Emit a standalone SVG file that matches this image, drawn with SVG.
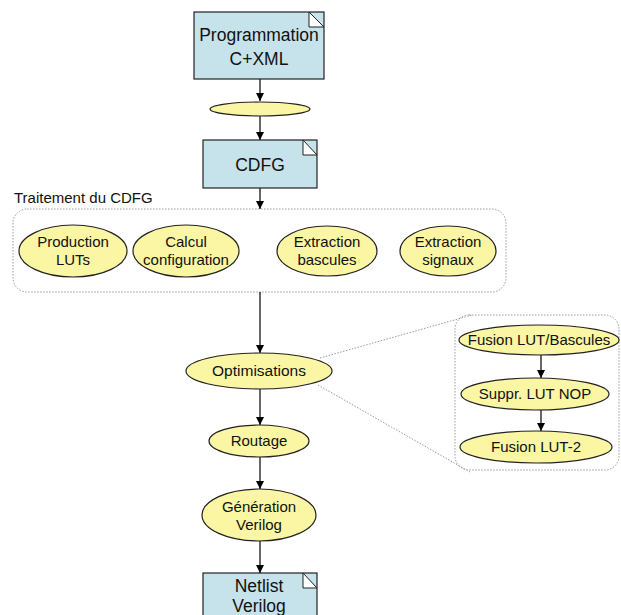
<svg xmlns="http://www.w3.org/2000/svg" width="621" height="615" viewBox="0 0 621 615">
<style>
text{font-family:"Liberation Sans",Arial,sans-serif;fill:#111;text-anchor:middle}
.box{fill:#c6e2ea;stroke:#222;stroke-width:1.2}
.fold{fill:#ffffff;stroke:#222;stroke-width:1}
.ell{fill:#faf6a4;stroke:#222;stroke-width:1.2}
.bt{font-size:17.5px}
.et{font-size:15px}
.grp{fill:none;stroke:#999;stroke-width:1;stroke-dasharray:1.5 1.5}
.conn line{stroke:#000;stroke-width:1.2}
.zoom{stroke:#999;stroke-width:1;stroke-dasharray:1.5 1.5;fill:none}
</style>
<defs>
<marker id="ah" viewBox="0 0 10 10" refX="10" refY="5" markerWidth="8" markerHeight="8" markerUnits="userSpaceOnUse" orient="auto">
<path d="M0,0 L10,5 L0,10 z" fill="#000"/>
</marker>
</defs>

<g id="group-traitement">
<rect class="grp" x="13" y="209" width="493" height="83" rx="14"/>
<text x="14" y="203" style="font-size:15px;text-anchor:start">Traitement du CDFG</text>
</g>
<g id="group-optim">
<rect class="grp" x="455" y="315" width="164" height="155" rx="14"/>
</g>

<g class="conn" id="connectors">
<line x1="260" y1="79" x2="260" y2="101" marker-end="url(#ah)"/>
<line x1="260" y1="116" x2="260" y2="140" marker-end="url(#ah)"/>
<line x1="260" y1="188" x2="260" y2="209" marker-end="url(#ah)"/>
<line x1="260" y1="292" x2="260" y2="353" marker-end="url(#ah)"/>
<line x1="260" y1="389" x2="260" y2="425" marker-end="url(#ah)"/>
<line x1="260" y1="457" x2="260" y2="489" marker-end="url(#ah)"/>
<line x1="260" y1="541" x2="260" y2="573" marker-end="url(#ah)"/>
<line x1="541" y1="355" x2="541" y2="378" marker-end="url(#ah)"/>
<line x1="541" y1="410" x2="541" y2="431" marker-end="url(#ah)"/>
<path class="zoom" d="M320,358 L472,315"/>
<path class="zoom" d="M318,385 L470,472"/>
</g>

<g id="programmation">
<rect class="box" x="194" y="12" width="130" height="67"/>
<path class="fold" d="M309,12 L309,27 L324,27 Z"/>
<text class="bt" x="259" y="41">Programmation</text>
<text class="bt" x="259" y="65">C+XML</text>
</g>
<g id="blank">
<ellipse class="ell" cx="260" cy="109" rx="50" ry="7"/>
</g>
<g id="cdfg">
<rect class="box" x="203" y="140" width="114" height="48"/>
<path class="fold" d="M303,140 L303,155 L317,155 Z"/>
<text class="bt" x="260" y="171">CDFG</text>
</g>

<g id="production-luts">
<ellipse class="ell" cx="73" cy="251" rx="54" ry="26"/>
<text class="et" x="73" y="247">Production</text>
<text class="et" x="73" y="265">LUTs</text>
</g>
<g id="calcul-configuration">
<ellipse class="ell" cx="186" cy="251" rx="53" ry="26"/>
<text class="et" x="186" y="247">Calcul</text>
<text class="et" x="186" y="265">configuration</text>
</g>
<g id="extraction-bascules">
<ellipse class="ell" cx="327" cy="251" rx="50" ry="25"/>
<text class="et" x="327" y="247">Extraction</text>
<text class="et" x="327" y="265">bascules</text>
</g>
<g id="extraction-signaux">
<ellipse class="ell" cx="448" cy="251" rx="48" ry="25"/>
<text class="et" x="448" y="247">Extraction</text>
<text class="et" x="448" y="265">signaux</text>
</g>

<g id="optimisations">
<ellipse class="ell" cx="259" cy="371" rx="73" ry="18"/>
<text class="et" x="259" y="376" style="font-size:15.5px">Optimisations</text>
</g>
<g id="routage">
<ellipse class="ell" cx="259" cy="441" rx="50" ry="16"/>
<text class="et" x="259" y="446">Routage</text>
</g>
<g id="generation-verilog">
<ellipse class="ell" cx="259" cy="515" rx="57" ry="26"/>
<text class="et" x="259" y="512">Génération</text>
<text class="et" x="259" y="530">Verilog</text>
</g>
<g id="netlist-verilog">
<rect class="box" x="203" y="573" width="114" height="60"/>
<path class="fold" d="M303,573 L303,588 L317,588 Z"/>
<text class="bt" x="259" y="592">Netlist</text>
<text class="bt" x="259" y="612">Verilog</text>
</g>

<g id="fusion-lut-bascules">
<ellipse class="ell" cx="539" cy="340" rx="80" ry="15"/>
<text class="et" x="539" y="345">Fusion LUT/Bascules</text>
</g>
<g id="suppr-lut-nop">
<ellipse class="ell" cx="535" cy="394" rx="74" ry="16"/>
<text class="et" x="535" y="399">Suppr. LUT NOP</text>
</g>
<g id="fusion-lut-2">
<ellipse class="ell" cx="536" cy="447" rx="76" ry="16"/>
<text class="et" x="536" y="452">Fusion LUT-2</text>
</g>
</svg>
